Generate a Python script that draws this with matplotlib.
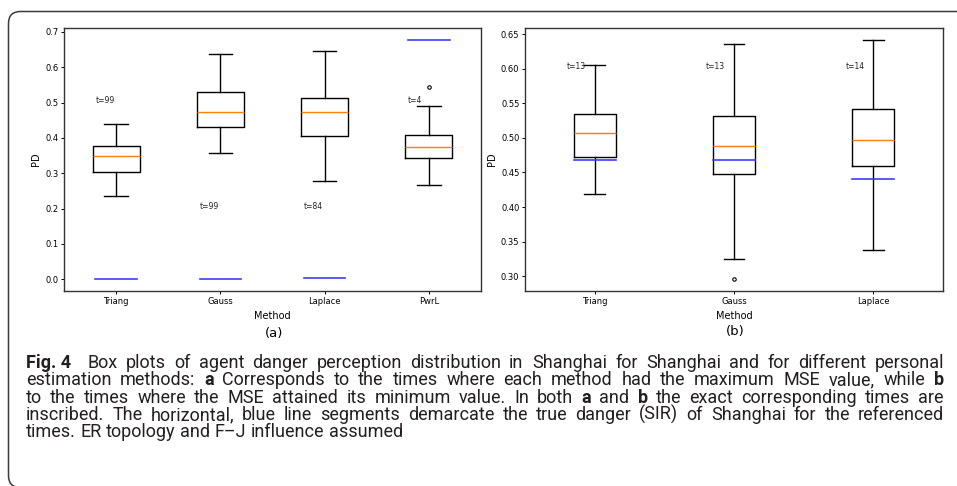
import matplotlib
matplotlib.use("Agg")
import matplotlib.pyplot as plt
from matplotlib.patches import PathPatch
from matplotlib.path import Path
from matplotlib.transforms import IdentityTransform

# ---- panel (a): times of maximum MSE ----
methods_a = ['Triang', 'Gauss', 'Laplace', 'PwrL']
whislo_a = [0.237, 0.356, 0.278, 0.267]
q1_a = [0.303, 0.431, 0.406, 0.342]
med_a = [0.348, 0.474, 0.474, 0.375]
q3_a = [0.376, 0.529, 0.512, 0.408]
whishi_a = [0.440, 0.637, 0.647, 0.490]
fliers_a = [[], [], [], [0.543]]
true_a = [0.002, 0.002, 0.005, 0.678]
tlabels_a = ['t=99', 't=99', 't=84', 't=4']
tlabel_y_a = [0.5, 0.2, 0.2, 0.5]

# ---- panel (b): times of minimum MSE ----
methods_b = ['Triang', 'Gauss', 'Laplace']
whislo_b = [0.419, 0.325, 0.338]
q1_b = [0.473, 0.448, 0.459]
med_b = [0.507, 0.488, 0.4965]
q3_b = [0.535, 0.531, 0.542]
whishi_b = [0.605, 0.635, 0.642]
fliers_b = [[], [0.2965], []]
true_b = [0.468, 0.468, 0.440]
tlabels_b = ['t=13', 't=13', 't=14']
tlabel_y_b = [0.6, 0.6, 0.6]

W, H = 957, 486
fig = plt.figure(figsize=(W / 100, H / 100), dpi=100)

ax_a = fig.add_axes([64 / W, 1 - 291 / H, 417 / W, 263 / H])
ax_b = fig.add_axes([525 / W, 1 - 291 / H, 418 / W, 263 / H])


def draw_panel(ax, methods, wlo, q1, med, q3, whi, fliers, true, tl, tly):
    stats = []
    for i in range(len(methods)):
        stats.append(dict(label=methods[i], whislo=wlo[i], q1=q1[i], med=med[i],
                          q3=q3[i], whishi=whi[i], fliers=fliers[i]))
    ax.bxp(stats,
           boxprops=dict(color='black', linewidth=1.0),
           whiskerprops=dict(color='black', linewidth=1.0),
           capprops=dict(color='black', linewidth=1.0),
           medianprops=dict(color='#ff7f0e', linewidth=1.0),
           flierprops=dict(marker='o', markersize=2.5, markerfacecolor='none',
                           markeredgecolor='black', markeredgewidth=0.8))
    n = len(methods)
    for i in range(n):
        f = (i + 0.5) / n
        ax.axhline(true[i], xmin=f - 0.05, xmax=f + 0.05, color='#3c3cf5', linewidth=1.2)
        ax.text(i + 1 - 0.2, tly[i], tl[i], fontsize=5.5, color='#222222')
    ax.tick_params(labelsize=6, length=2.5, pad=1.5, width=0.7)
    ax.set_xlabel('Method', fontsize=7, labelpad=4)
    ax.set_ylabel('PD', fontsize=7, labelpad=3)
    for s in ax.spines.values():
        s.set_linewidth(1.0)
        s.set_color('#333333')


draw_panel(ax_a, methods_a, whislo_a, q1_a, med_a, q3_a, whishi_a, fliers_a,
           true_a, tlabels_a, tlabel_y_a)
draw_panel(ax_b, methods_b, whislo_b, q1_b, med_b, q3_b, whishi_b, fliers_b,
           true_b, tlabels_b, tlabel_y_b)
ax_a.set_ylim(-0.033, 0.711)
ax_b.set_ylim(0.2788, 0.6587)
ax_b.yaxis.set_major_formatter(matplotlib.ticker.FormatStrFormatter('%.2f'))

fig.text(274 / W, 1 - 333 / H, '(a)', ha='center', va='center', fontsize=9.5)
fig.text(735 / W, 1 - 332 / H, '(b)', ha='center', va='center', fontsize=9.5)

# open frame: top edge, rounded top-left corner, left edge, rounded bottom-left corner
r = 12
xl, yt, yb = 8.5, H - 11.5, -1.5
verts = [(W + 10, yt), (xl + r, yt), (xl, yt), (xl, yt - r), (xl, yb + r),
         (xl, yb), (xl + r, yb), (W + 10, yb)]
codes = [Path.MOVETO, Path.LINETO, Path.CURVE3, Path.CURVE3, Path.LINETO,
         Path.CURVE3, Path.CURVE3, Path.LINETO]
frame = PathPatch(Path(verts, codes), transform=IdentityTransform(),
                  facecolor='none', edgecolor='#3a3a3a', linewidth=1.1)
fig.patches.append(frame)

# ---- caption, justified ----
caption = [
    [('Fig. 4', True), ('Box plots of agent danger perception distribution in Shanghai for Shanghai and for different personal', False)],
    [('estimation methods:', False), ('a', True), ('Corresponds to the times where each method had the maximum MSE value, while', False), ('b', True)],
    [('to the times where the MSE attained its minimum value. In both', False), ('a', True), ('and', False), ('b', True), ('the exact corresponding times are', False)],
    [('inscribed. The horizontal, blue line segments demarcate the true danger (SIR) of Shanghai for the referenced', False)],
    [('times. ER topology and F\u2013J influence assumed', False)],
]

x0, x1 = 26, 944
base0, step = 368, 17.3
cap_font = 'Roboto'
renderer = fig.canvas.get_renderer()


def text_w(s, size, bold=False):
    t = fig.text(0, 0, s, transform=IdentityTransform(), fontsize=size,
                 family=cap_font, fontweight='bold' if bold else 'normal')
    w = t.get_window_extent(renderer).width
    t.remove()
    return w


# pick the caption size so the widest justified line fits with normal spacing
probe = 10.0
space = text_w('a a', probe) - text_w('aa', probe)
widest = 0
for segs in caption[:-1]:
    wsum, nw = 0, 0
    for txt, bold in segs:
        for w in txt.split(' '):
            wsum += text_w(w, probe, bold)
            nw += 1
    widest = max(widest, wsum + space * (nw - 1))
cap_size = min(probe * (x1 - x0 - 12) / widest, 13.0)

for li, segs in enumerate(caption):
    words = []
    for k, (txt, bold) in enumerate(segs):
        if li == 0 and k == 0:
            words.append((txt, bold, 8))
            continue
        for w in txt.split(' '):
            words.append((w, bold, 0))
    # whole-pixel baseline keeps all words of a line on the same row
    y = round(H - (base0 + li * step))
    arts = []
    total = 0
    for w, bold, extra in words:
        t = fig.text(0, y, w, transform=IdentityTransform(), fontsize=cap_size,
                     family=cap_font, fontweight='bold' if bold else 'normal',
                     va='baseline', color='#231f20')
        wd = t.get_window_extent(renderer).width
        arts.append((t, wd, extra))
        total += wd + extra
    if li < len(caption) - 1:
        gap = (x1 - x0 - total) / (len(words) - 1)
    else:
        gap = space * cap_size / probe
    x = x0
    for t, wd, extra in arts:
        t.set_x(x)
        x += wd + extra + gap

fig.savefig('out.png', dpi=100)
